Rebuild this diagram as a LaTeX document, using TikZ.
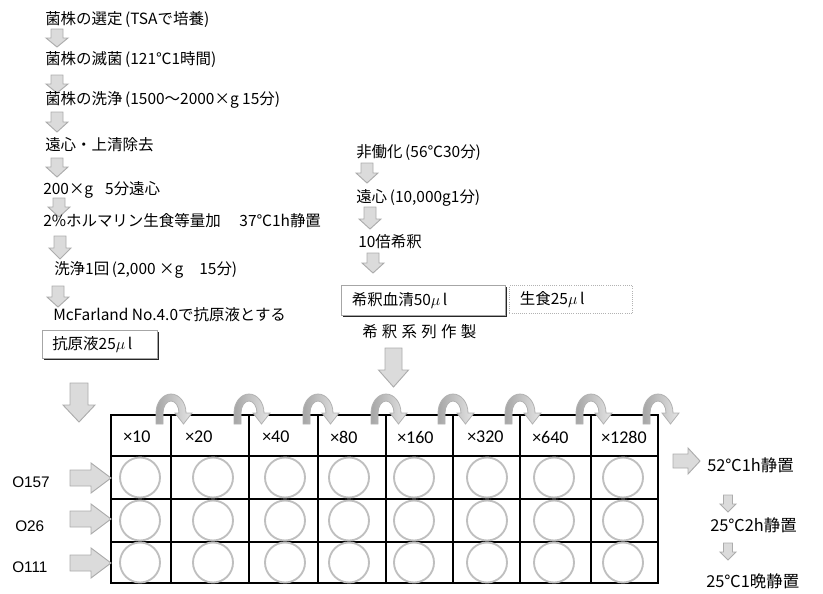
\documentclass[tikz,border=0pt]{standalone}
\usepackage{fontspec}
\setmainfont{Noto Sans CJK JP}
\newfontfamily\latinf{Liberation Sans}
\newfontfamily\calf{Carlito}
\usetikzlibrary{shadows}
\tikzset{
  blk/.style={fill=gray!28, draw=gray!65, line width=0.7pt, line join=miter},
  carr/.style={left color=gray!70, right color=gray!20, draw=gray!60, line width=0.6pt},
  txt/.style={font=\fontsize{11.6}{13}\selectfont, inner sep=0pt, anchor=west},
  rtxt/.style={font=\fontsize{12.3}{14}\selectfont, inner sep=0pt, anchor=west},
  hdr/.style={font=\calf\fontsize{13.5}{15}\selectfont, inner sep=0pt, anchor=west},
  lbl/.style={font=\latinf\fontsize{11.5}{13}\selectfont, inner sep=0pt, anchor=west},
  gridl/.style={line width=1.3pt, black},
  well/.style={draw=gray!50, line width=1.4pt},
  sbox/.style={draw=gray!70, line width=0.5pt, fill=white, inner sep=0pt, anchor=north west,
     drop shadow={shadow xshift=1.2pt, shadow yshift=-1.2pt, fill=black, opacity=0.85}},
  dbox/.style={draw=gray!60, densely dotted, line width=0.6pt, inner sep=0pt, anchor=north west}
}
\newcommand\ul{$\mu$\,l}
% down arrow: cx, top, length, shaft width, head width, head length
\newcommand\DnArr[6]{\draw[blk] ({#1-(#4)/2},#2) -- ({#1+(#4)/2},#2) -- ({#1+(#4)/2},{#2+#3-#6}) -- ({#1+(#5)/2},{#2+#3-#6}) -- (#1,{#2+#3}) -- ({#1-(#5)/2},{#2+#3-#6}) -- ({#1-(#4)/2},{#2+#3-#6}) -- cycle;}
% right arrow: left x, cy, length, shaft width, head width, head length
\newcommand\RtArr[6]{\draw[blk] (#1,{#2-(#4)/2}) -- ({#1+#3-#6},{#2-(#4)/2}) -- ({#1+#3-#6},{#2-(#5)/2}) -- ({#1+#3},#2) -- ({#1+#3-#6},{#2+(#5)/2}) -- ({#1+#3-#6},{#2+(#4)/2}) -- (#1,{#2+(#4)/2}) -- cycle;}
% curved transfer arrow over a column border
\newcommand\CvArr[1]{\draw[carr] ({#1-15},424) -- ({#1-15},413) arc[start angle=180,end angle=360,x radius=15,y radius=19] -- ({#1+21},413) -- ({#1+12.5},424) -- ({#1+4},413) -- ({#1+8},413) arc[start angle=360,end angle=180,x radius=8,y radius=12] -- ({#1-8},424) -- cycle;}
\begin{document}
\begin{tikzpicture}[x=0.75pt,y=-0.75pt]
\useasboundingbox (0,0) rectangle (823,593);

% ---- left column
\node[txt] (t1) at (45,20) {菌株の選定\,(TSAで培養)};
\DnArr{57}{29}{18}{12}{22}{9}
\node[txt] (t2) at (45,60) {菌株の滅菌\,(121℃1時間)};
\DnArr{57}{75}{18}{12}{22}{9}
\node[txt] (t3) at (45,100) {菌株の洗浄\,(1500〜2000×g 15分)};
\DnArr{57}{112}{20}{12}{22}{10}
\node[txt] (t4) at (45,145) {遠心・上清除去};
\DnArr{57}{158}{19}{12}{22}{10}
\node[txt] (t5) at (43,190) {200×g\hspace{9pt}5分遠心};
\DnArr{59}{198}{19}{12}{22}{10}
\node[txt] (t6) at (43,221) {2\%ホルマリン生食等量加\hspace{14pt}37℃1h静置};
\DnArr{60}{236}{23}{12}{22}{11}
\node[txt] (t7) at (54,270) {洗浄1回\,(2,000 ×g\hspace{12pt}15分)};
\DnArr{58}{286}{21}{12}{22}{10}
\node[txt] (t8) at (53,315) {McFarland No.4.0で抗原液とする};
\node[sbox, minimum width=86.25pt, minimum height=21pt] (agbox) at (42,330) {};
\node[txt] (agtxt) at ([xshift=7.5pt]agbox.west) {抗原液25\ul};
\DnArr{79}{383}{39}{18}{32}{17}

% ---- middle column
\node[txt] (m1) at (356,153) {非働化\,(56℃30分)};
\DnArr{367}{163}{20}{12}{22}{10}
\node[txt] (m2) at (356,198) {遠心\,(10,000g1分)};
\DnArr{370}{207}{22}{12}{22}{10}
\node[txt] (m3) at (358,242) {10倍希釈};
\DnArr{373}{253}{20}{12}{22}{10}
\node[sbox, minimum width=123pt, minimum height=22.5pt] (dsbox) at (341,285) {};
\node[txt] (dstxt) at ([xshift=8pt]dsbox.west) {希釈血清50\ul};
\node[dbox, minimum width=92.25pt, minimum height=21pt] (sgbox) at (509,285) {};
\node[txt] (sgtxt) at ([xshift=8pt]sgbox.west) {生食25\ul};
\node[txt] (m4) at (362,332) {希\kern3.2pt 釈\kern3.2pt 系\kern3.2pt 列\kern3.2pt 作\kern3.2pt 製};
\DnArr{393.5}{348}{39}{17}{30}{17}

% ---- plate grid
\draw[gridl] (111,415) rectangle (658,583);
\foreach \yy in {456,499,542} {\draw[gridl] (111,\yy) -- (658,\yy);}
\foreach \xx in {171,249,318,386,453,520,591} {\draw[gridl] (\xx,415) -- (\xx,583);}
\foreach \cx in {140,213,285,349,414,487,554,623} {
  \foreach \cy in {477.5,520.5,562.5} {
    \draw[well] (\cx,\cy) circle[radius=20];}}
\foreach \bb in {171,249,318,386,453,520,591,658} {\CvArr{\bb}}

% header labels
\node[hdr] (h1) at (123,437) {×10};
\node[hdr] (h2) at (185,437) {×20};
\node[hdr] (h3) at (262,437) {×40};
\node[hdr] (h4) at (330,437) {×80};
\node[hdr] (h5) at (397,437) {×160};
\node[hdr] (h6) at (467,437) {×320};
\node[hdr] (h7) at (532,437) {×640};
\node[hdr] (h8) at (601,437) {×1280};

% row labels and arrows
\node[lbl] (r1) at (12,482) {O157};
\node[lbl] (r2) at (15,526) {O26};
\node[lbl] (r3) at (12,567) {O111};
\RtArr{70}{478}{41}{16}{30}{20}
\RtArr{70}{519}{41}{16}{30}{20}
\RtArr{70}{563}{41}{16}{30}{20}

% ---- right side
\RtArr{673}{461}{27}{14}{26}{12}
\node[rtxt] (s1) at (707,465) {52℃1h静置};
\DnArr{728}{495}{17}{9}{16}{8}
\node[rtxt] (s2) at (710,525) {25℃2h静置};
\DnArr{728}{543}{17}{9}{16}{8}
\node[rtxt] (s3) at (706,581) {25℃1晩静置};
\end{tikzpicture}
\end{document}
